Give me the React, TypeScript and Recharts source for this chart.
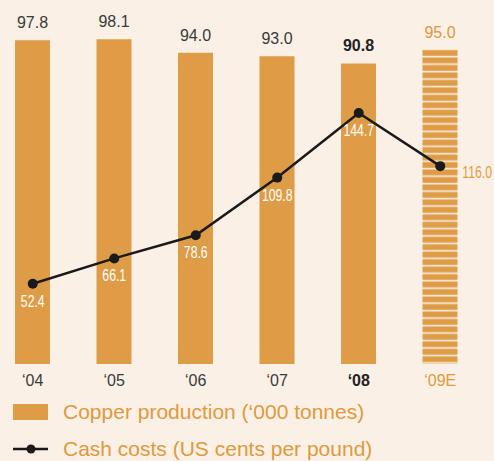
import { ComposedChart, Bar, Line, XAxis, YAxis, Cell, LabelList } from "recharts";

const years = ["\u201804", "\u201805", "\u201806", "\u201807", "\u201808", "\u201809E"];
const production = [97.8, 98.1, 94.0, 93.0, 90.8, 95.0];
const cashCosts = [52.4, 66.1, 78.6, 109.8, 144.7, 116.0];

const data = years.map((year, i) => ({ year, production: production[i], cash: cashCosts[i] }));

const BG = "#fbf0e6";
const ORANGE = "#de9c47";
const ORANGE_TEXT = "#e09a3c";
const DARK = "#3a3a3a";
const SANS = "'Liberation Sans', Arial, Helvetica, sans-serif";

const last = years.length - 1;
const boldIdx = 4;

function YearTick(props: any) {
  const { x, y, payload, index } = props;
  const fill = index === last ? ORANGE_TEXT : index === boldIdx ? "#222" : DARK;
  return (
    <text x={x} y={y} dy={14} textAnchor="middle" fill={fill} fontSize={16}
      fontWeight={index === boldIdx ? 700 : 400} fontFamily={SANS}>
      {payload.value}
    </text>
  );
}

function ProdLabel(props: any) {
  const { x, y, width, value, index } = props;
  const fill = index === last ? ORANGE_TEXT : index === boldIdx ? "#222" : DARK;
  return (
    <text x={x + width / 2} y={y - 12} textAnchor="middle" fill={fill} fontSize={16}
      fontWeight={index === boldIdx ? 700 : 400} fontFamily={SANS}>
      {Number(value).toFixed(1)}
    </text>
  );
}

// condensed look: squeeze horizontally since no narrow font is installed
function CashLabel(props: any) {
  const { x, y, value, index } = props;
  const txt = Number(value).toFixed(1);
  if (index === last) {
    return (
      <text transform={`translate(${x + 22},${y + 12}) scale(0.72,1)`} textAnchor="start"
        fill={ORANGE_TEXT} fontSize={17} fontFamily={SANS}>
        {txt}
      </text>
    );
  }
  return (
    <text transform={`translate(${x},${y + 23}) scale(0.72,1)`} textAnchor="middle"
      fill="#fff" fontSize={17} fontFamily={SANS}>
      {txt}
    </text>
  );
}

export default function App() {
  return (
    <div style={{ position: "absolute", left: 0, top: 0, width: 494, height: 461, background: BG, overflow: "hidden" }}>
      <ComposedChart width={494} height={400} data={data} margin={{ top: 33, right: 13, bottom: 6, left: -8 }}>
        <defs>
          <pattern id="stripes" patternUnits="userSpaceOnUse" width={10} height={7.47}>
            <rect x={0} y={0} width={10} height={7.47} fill={ORANGE} />
            <rect x={0} y={3.5} width={10} height={1.7} fill="#f8e9da" />
          </pattern>
        </defs>
        <XAxis dataKey="year" axisLine={false} tickLine={false} height={30} interval={0} tick={<YearTick />} />
        <YAxis yAxisId="left" hide domain={[0, 100]} />
        <YAxis yAxisId="right" orientation="right" hide domain={[9, 188]} />
        <Bar yAxisId="left" dataKey="production" barSize={35} isAnimationActive={false}>
          {data.map((d, i) => (
            <Cell key={d.year} fill={i === last ? "url(#stripes)" : ORANGE} />
          ))}
          <LabelList dataKey="production" content={<ProdLabel />} />
        </Bar>
        <Line yAxisId="right" dataKey="cash" stroke="#1a1a1a" strokeWidth={2.5}
          dot={{ r: 5, fill: "#1a1a1a", stroke: "none" }} isAnimationActive={false}>
          <LabelList dataKey="cash" content={<CashLabel />} />
        </Line>
      </ComposedChart>
      <div style={{ position: "absolute", left: 13, top: 404, width: 35, height: 16, background: ORANGE }} />
      <div style={{ position: "absolute", left: 63, top: 399, height: 26, lineHeight: "26px", fontSize: 21, color: ORANGE_TEXT, fontFamily: SANS, whiteSpace: "nowrap" }}>
        Copper production (&#8216;000 tonnes)
      </div>
      <svg style={{ position: "absolute", left: 13, top: 441 }} width={36} height={16}>
        <line x1={0} y1={8} x2={35} y2={8} stroke="#1a1a1a" strokeWidth={2.5} />
        <circle cx={18} cy={8} r={4.5} fill="#1a1a1a" />
      </svg>
      <div style={{ position: "absolute", left: 63, top: 436, height: 26, lineHeight: "26px", fontSize: 21, color: ORANGE_TEXT, fontFamily: SANS, whiteSpace: "nowrap" }}>
        Cash costs (US cents per pound)
      </div>
    </div>
  );
}
